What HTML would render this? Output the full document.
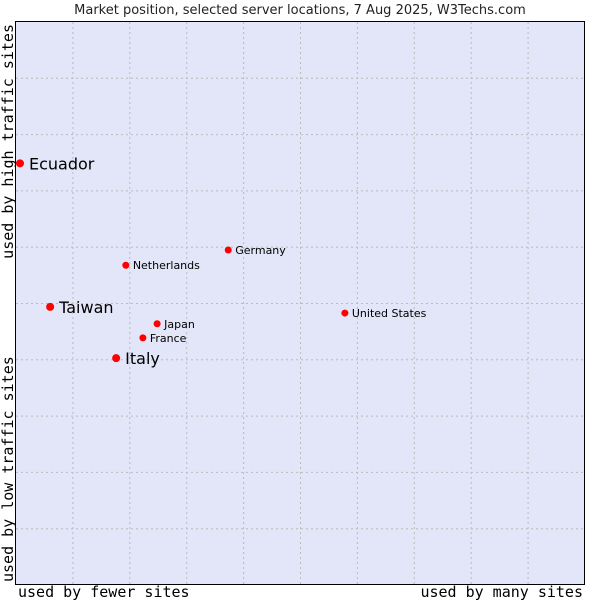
<!DOCTYPE html>
<html><head><meta charset="utf-8"><style>
body{margin:0;background:#fff;width:600px;height:600px;overflow:hidden}
</style></head><body>
<svg id="chart" width="600" height="600" xmlns="http://www.w3.org/2000/svg">
<text x="300" y="14" text-anchor="middle" font-family="DejaVu Sans, sans-serif" font-size="13" fill="#222">Market position, selected server locations, 7 Aug 2025, W3Techs.com</text>
<rect x="15.5" y="21.5" width="569" height="563" fill="#e3e5f8" stroke="#000" stroke-width="1"/>
<g id="grid"></g>
<g id="points"></g>
<text x="18" y="597" font-family="DejaVu Sans Mono, monospace" font-size="15" fill="#000">used by fewer sites</text>
<text x="583" y="597" text-anchor="end" font-family="DejaVu Sans Mono, monospace" font-size="15" fill="#000">used by many sites</text>
<text transform="translate(13,24) rotate(-90)" text-anchor="end" font-family="DejaVu Sans Mono, monospace" font-size="15" fill="#000">used by high traffic sites</text>
<text transform="translate(13,582) rotate(-90)" font-family="DejaVu Sans Mono, monospace" font-size="15" fill="#000">used by low traffic sites</text>
</svg>
<script>
const names=["Ecuador","Taiwan","Italy","Netherlands","Germany","Japan","France","United States"];
const xValues=[0.7,6.0,17.6,19.3,37.3,24.8,22.3,57.8];
const yValues=[74.9,49.4,40.3,56.8,59.5,46.4,43.9,48.3];
const bigLabel=[true,true,true,false,false,false,false,false];
const L=16,R=585,T=22,B=585;
const sx=v=>L+v/100*(R-L), sy=v=>B-v/100*(B-T);
const NS="http://www.w3.org/2000/svg";
const grid=document.getElementById('grid'), pts=document.getElementById('points');
for(let i=1;i<10;i++){
  const x=sx(i*10), y=sy(i*10);
  const v=document.createElementNS(NS,'line');
  
  
  v.setAttribute('x1',x);v.setAttribute('x2',x);v.setAttribute('y1',T);v.setAttribute('y2',B);
  v.setAttribute('stroke','#bbb');v.setAttribute('stroke-dasharray','2,3');grid.appendChild(v);
  const h=document.createElementNS(NS,'line');
  
  
  h.setAttribute('x1',L);h.setAttribute('x2',R);h.setAttribute('y1',y);h.setAttribute('y2',y);
  h.setAttribute('stroke','#bbb');h.setAttribute('stroke-dasharray','2,3');grid.appendChild(h);
}
names.forEach((n,i)=>{
  const x=sx(xValues[i]), y=sy(yValues[i]);
  const c=document.createElementNS(NS,'circle');
  
  
  c.setAttribute('cx',x);c.setAttribute('cy',y);c.setAttribute('r',bigLabel[i]?4:3.5);c.setAttribute('fill','#f00');
  pts.appendChild(c);
  const t=document.createElementNS(NS,'text');
  
  
  t.setAttribute('x',x+(bigLabel[i]?9:7));t.setAttribute('y',y+(bigLabel[i]?6:4));
  t.setAttribute('font-family','DejaVu Sans, sans-serif');t.setAttribute('font-size',bigLabel[i]?16:11);
  t.setAttribute('fill','#000');t.textContent=n;pts.appendChild(t);
});
</script>
</body></html>
